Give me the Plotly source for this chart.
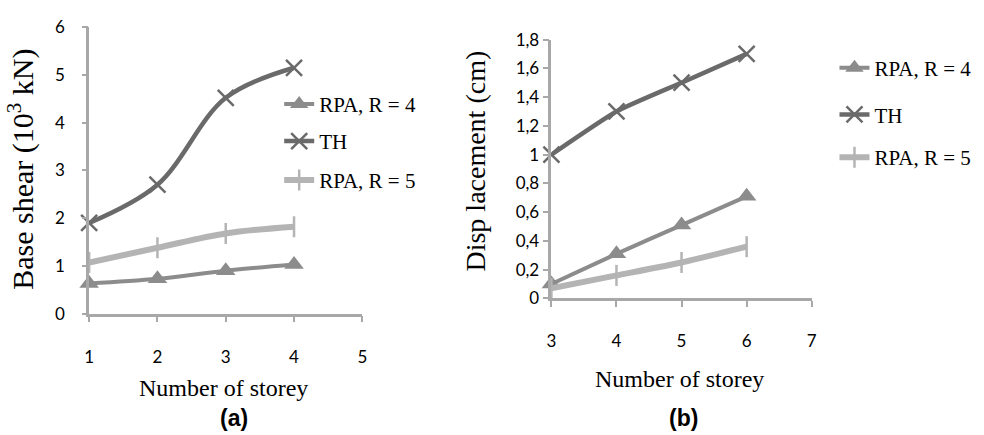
import plotly.graph_objects as go

# ---- data ----
storeys_a = [1, 2, 3, 4]
rpa4_a = [0.63, 0.73, 0.90, 1.03]
th_a = [1.90, 2.70, 4.52, 5.15]
rpa5_a = [1.07, 1.38, 1.68, 1.82]

storeys_b = [3, 4, 5, 6]
rpa4_b = [0.10, 0.31, 0.51, 0.71]
th_b = [1.00, 1.30, 1.50, 1.70]
rpa5_b = [0.07, 0.16, 0.25, 0.36]

yticks_a = [0, 1, 2, 3, 4, 5, 6]
ytick_vals_b = [0, 0.2, 0.4, 0.6, 0.8, 1.0, 1.2, 1.4, 1.6, 1.8]
ytick_text_b = ["0", "0,2", "0,4", "0,6", "0,8", "1", "1,2", "1,4", "1,6", "1,8"]

names = ["RPA, R = 4", "TH", "RPA, R = 5"]

W, H = 984, 435
C_TH = "#6a6a6a"
C_R4 = "#8c8c8c"
C_R5 = "#b4b4b4"
AX = "#a8a8a8"

def fx(px):
    return px / W

def fy(py):
    return 1 - py / H

styles = [
    dict(color=C_R4, width=4, symbol="triangle-up", msize=17, mline=0),
    dict(color=C_TH, width=4.5, symbol="x-thin", msize=16, mline=2.5),
    dict(color=C_R5, width=6, symbol="line-ns", msize=15, mline=2.5),
]

fig = go.Figure()

def add(xs, ys, st, name, xa, ya, legend, shape, smooth):
    fig.add_trace(go.Scatter(
        x=xs, y=ys, name=name, mode="lines+markers",
        line=dict(color=st["color"], width=st["width"], shape=shape, smoothing=smooth),
        marker=dict(symbol=st["symbol"], size=st["msize"], color=st["color"],
                    line=dict(color=st["color"], width=st["mline"])),
        xaxis=xa, yaxis=ya, legend=legend, cliponaxis=False,
    ))

series_a = [rpa4_a, th_a, rpa5_a]
series_b = [rpa4_b, th_b, rpa5_b]
legend_pos_a = [98, 137, 178]
legend_pos_b = [60, 109, 154]
leg_layout = {}
for i in range(3):
    la = "legend" if i == 0 else f"legend{i+1}"
    lb = f"legend{i+4}"
    add(storeys_a, series_a[i], styles[i], names[i], "x", "y", la, "spline", 1.0)
    add(storeys_b, series_b[i], styles[i], names[i], "x2", "y2", lb, "spline", 0.5)
    for key, xpx, ypx in [(la, 277, legend_pos_a[i]), (lb, 838, legend_pos_b[i])]:
        leg_layout[key] = dict(
            x=fx(xpx), y=fy(ypx), xanchor="left", yanchor="middle",
            xref="paper", yref="paper",
            font=dict(family="Liberation Serif", size=21, color="#000"),
            bgcolor="rgba(0,0,0,0)", itemwidth=30, tracegroupgap=0,
        )

# empty helper trace so the tick-mark overlay axis is drawn
fig.add_trace(go.Scatter(x=[], y=[], xaxis="x", yaxis="y3", showlegend=False, hoverinfo="skip"))

axis_common = dict(
    showgrid=False, zeroline=False, showline=True, linecolor=AX, linewidth=2.5,
    ticks="outside", tickcolor=AX, ticklen=6, tickwidth=2,
    tickfont=dict(family="Lato", size=17, color="#000"),
)

yaxis_a = dict(axis_common)
yaxis_a.update(tickcolor="rgba(0,0,0,0)", ticklen=18)

fig.update_layout(
    width=W, height=H, margin=dict(l=0, r=0, t=0, b=0),
    paper_bgcolor="white", plot_bgcolor="white", showlegend=True,
    xaxis=dict(domain=[fx(85), fx(361)], range=[1, 5], tickvals=[1, 2, 3, 4, 5],
               ticklabelstandoff=20, anchor="y", **axis_common),
    yaxis=dict(domain=[fy(318), fy(17)], range=[0, 6], tickvals=yticks_a,
               anchor="x", **yaxis_a),
    yaxis3=dict(overlaying="y", anchor="x", range=[0, 6], tickvals=yticks_a,
                showticklabels=False, showgrid=False, zeroline=False, showline=False,
                ticks="outside", tickcolor=AX, ticklen=6, tickwidth=2),
    xaxis2=dict(domain=[fx(552), fx(815)], range=[3, 7], tickvals=[3, 4, 5, 6, 7],
                ticklabelstandoff=19, anchor="y2", **axis_common),
    yaxis2=dict(domain=[fy(302), fy(30)], range=[0, 1.8], tickvals=ytick_vals_b,
                ticktext=ytick_text_b, anchor="x2", **axis_common),
    **leg_layout,
)

serif = dict(family="Liberation Serif", size=24, color="#000")
ann = [
    dict(text="Base shear (10<sup>3</sup> kN)", x=fx(17), y=fy(166), textangle=-90,
         font=dict(family="Liberation Serif", size=30, color="#000")),
    dict(text="Disp lacement (cm)", x=fx(475), y=fy(158), textangle=-90,
         font=dict(family="Liberation Serif", size=28, color="#000")),
    dict(text="Number of storey", x=fx(221), y=fy(396), font=serif),
    dict(text="Number of storey", x=fx(681), y=fy(387), font=serif),
    dict(text="<b>(a)</b>", x=fx(231), y=fy(428),
         font=dict(family="Liberation Sans", size=23, color="#000")),
    dict(text="<b>(b)</b>", x=fx(685), y=fy(428),
         font=dict(family="Liberation Sans", size=23, color="#000")),
]
for a in ann:
    a.update(xref="paper", yref="paper", showarrow=False, xanchor="center", yanchor="middle")
fig.update_layout(annotations=ann)

fig.write_html("out.html")
